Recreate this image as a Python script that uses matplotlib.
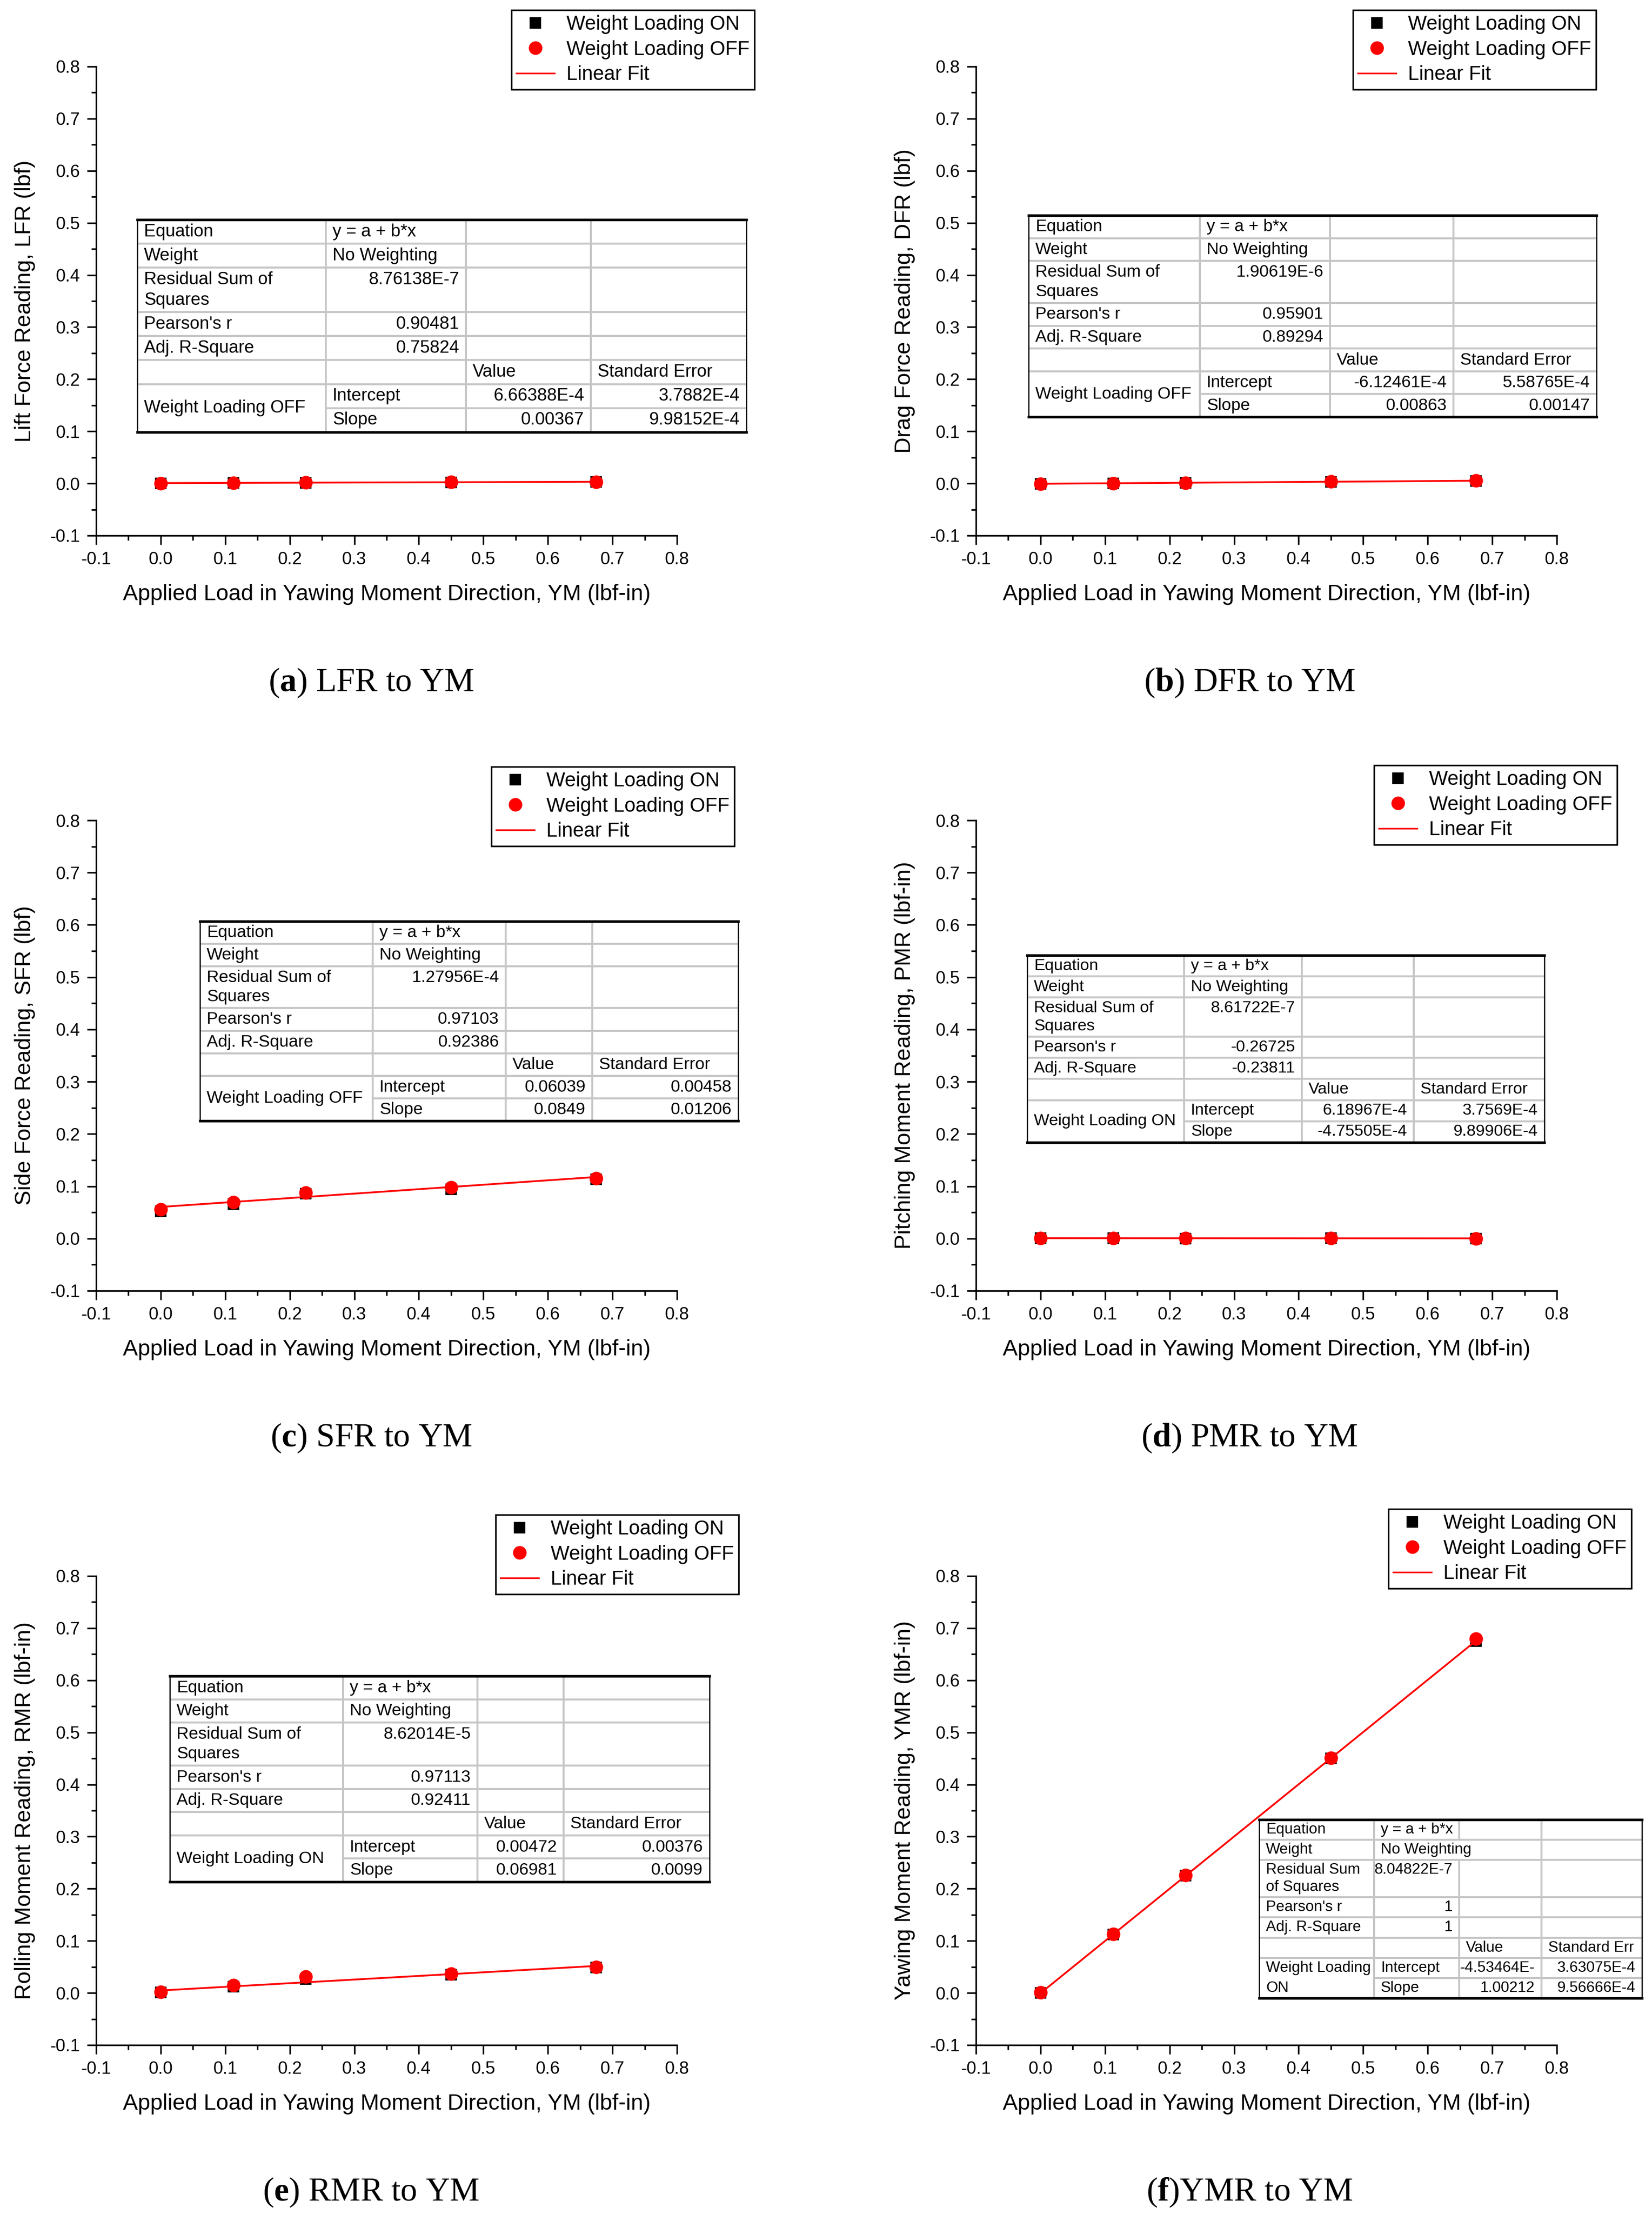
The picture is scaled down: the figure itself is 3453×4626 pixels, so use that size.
import numpy as np
import matplotlib
matplotlib.use("Agg")
import matplotlib.pyplot as plt
from matplotlib.lines import Line2D
from matplotlib.patches import Rectangle
from matplotlib.ticker import MultipleLocator, FormatStrFormatter

plt.rcParams['font.family'] = ['Liberation Sans', 'DejaVu Sans']
plt.rcParams['axes.unicode_minus'] = False
plt.rcParams['mathtext.fontset'] = 'custom'
plt.rcParams['mathtext.rm'] = 'Liberation Serif'
plt.rcParams['mathtext.bf'] = 'Liberation Serif:bold'

# applied yawing moment (lbf-in)
x_load = [0.0, 0.1125, 0.225, 0.45, 0.675]

# readings, weight loading ON / OFF
lfr_on = [0.0003, 0.0008, 0.0012, 0.0022, 0.0028]
lfr_off = [0.0005, 0.0012, 0.0016, 0.0024, 0.0031]
dfr_on = [-0.0006, 0.0002, 0.0011, 0.0033, 0.0050]
dfr_off = [-0.0004, 0.0004, 0.0013, 0.0036, 0.0053]
sfr_on = [0.052, 0.066, 0.086, 0.094, 0.113]
sfr_off = [0.056, 0.069, 0.088, 0.098, 0.115]
pmr_on = [0.0005, 0.0008, 0.0001, 0.0006, 0.0002]
pmr_off = [0.0003, 0.0006, 0.0003, 0.0004, 0.0001]
rmr_on = [0.001, 0.012, 0.027, 0.035, 0.049]
rmr_off = [0.002, 0.015, 0.031, 0.037, 0.050]
ymr_on = [0.0, 0.112, 0.225, 0.450, 0.675]
ymr_off = [0.001, 0.113, 0.226, 0.451, 0.680]

# fit results (intercept, slope) as printed in the tables
fit_a = [6.66388e-4, 0.00367]
fit_b = [-6.12461e-4, 0.00863]
fit_c = [0.06039, 0.0849]
fit_d = [6.18967e-4, -4.75505e-4]
fit_e = [0.00472, 0.06981]
fit_f = [-4.53464e-4, 1.00212]

# table texts: RSS, Pearson's r, Adj. R-Square, then (value, std err) rows
stats_a = ["8.76138E-7", "0.90481", "0.75824"]
rows_a = [["6.66388E-4", "3.7882E-4"], ["0.00367", "9.98152E-4"]]
stats_b = ["1.90619E-6", "0.95901", "0.89294"]
rows_b = [["-6.12461E-4", "5.58765E-4"], ["0.00863", "0.00147"]]
stats_c = ["1.27956E-4", "0.97103", "0.92386"]
rows_c = [["0.06039", "0.00458"], ["0.0849", "0.01206"]]
stats_d = ["8.61722E-7", "-0.26725", "-0.23811"]
rows_d = [["6.18967E-4", "3.7569E-4"], ["-4.75505E-4", "9.89906E-4"]]
stats_e = ["8.62014E-5", "0.97113", "0.92411"]
rows_e = [["0.00472", "0.00376"], ["0.06981", "0.0099"]]
stats_f = ["8.04822E-7", "1", "1"]
rows_f = [["-4.53464E-", "3.63075E-4"], ["1.00212", "9.56666E-4"]]

x_label = "Applied Load in Yawing Moment Direction, YM (lbf-in)"

W, H = 3453, 4626
fig = plt.figure(figsize=(W / 300, H / 300), dpi=300)


def fbox(x0, y0, x1, y1):
    return [x0 / W, 1 - y1 / H, (x1 - x0) / W, (y1 - y0) / H]


def draw_table(box, cols, stats, rows, series, fs=8.8,
               res_lines=("Residual Sum of", "Squares"),
               se_head="Standard Error", split_series=False, gap_w=False):
    x0, y0, x1, y1 = box
    tax = fig.add_axes(fbox(x0, y0, x1, y1))
    tax.set_xlim(0, 1)
    tax.set_ylim(1, 0)
    tax.axis('off')
    tax.add_patch(Rectangle((0, 0), 1, 1, facecolor='white', edgecolor='none'))
    cf = [0] + [(c - x0) / (x1 - x0) for c in cols] + [1]
    units = [1, 1, 1.85, 1, 1, 1, 1, 1]
    u = 1 / sum(units)
    rb = np.concatenate([[0], np.cumsum(units)]) * u
    rc = (rb[:-1] + rb[1:]) / 2
    gray = '#c6c6c6'
    for i in range(1, 8):
        xs = cf[1] if i == 7 else 0
        tax.plot([xs, 1], [rb[i], rb[i]], color=gray, lw=1.0)
    for j in (1, 2, 3):
        if gap_w and j == 2:
            tax.plot([cf[j]] * 2, [0, rb[1]], color=gray, lw=1.0)
            tax.plot([cf[j]] * 2, [rb[2], 1], color=gray, lw=1.0)
        else:
            tax.plot([cf[j]] * 2, [0, 1], color=gray, lw=1.0)
    tax.plot([0, 1], [0, 0], color='black', lw=1.3, clip_on=False)
    tax.plot([0, 1], [1, 1], color='black', lw=1.3, clip_on=False)
    tax.plot([0, 0], [0, 1], color='black', lw=0.6, clip_on=False)
    tax.plot([1, 1], [0, 1], color='black', lw=0.6, clip_on=False)

    pad = 14 / (x1 - x0)
    kw = dict(fontsize=fs, va='center')
    tax.text(pad, rc[0], "Equation", **kw)
    tax.text(cf[1] + pad, rc[0], "y = a + b*x", **kw)
    tax.text(pad, rc[1], "Weight", **kw)
    tax.text(cf[1] + pad, rc[1], "No Weighting", **kw)
    tax.text(pad, rb[2] + 0.5 * u, res_lines[0], **kw)
    tax.text(pad, rb[2] + 1.35 * u, res_lines[1], **kw)
    tax.text(cf[2] - pad, rb[2] + 0.5 * u, stats[0], ha='right', **kw)
    tax.text(pad, rc[3], "Pearson's r", **kw)
    tax.text(cf[2] - pad, rc[3], stats[1], ha='right', **kw)
    tax.text(pad, rc[4], "Adj. R-Square", **kw)
    tax.text(cf[2] - pad, rc[4], stats[2], ha='right', **kw)
    tax.text(cf[2] + pad, rc[5], "Value", **kw)
    tax.text(cf[3] + pad, rc[5], se_head, **kw)
    for k, name in enumerate(["Intercept", "Slope"]):
        tax.text(cf[1] + pad, rc[6 + k], name, **kw)
        tax.text(cf[3] - pad, rc[6 + k], rows[k][0], ha='right', **kw)
        tax.text(1 - pad, rc[6 + k], rows[k][1], ha='right', **kw)
    if split_series:
        tax.text(pad, rc[6], series[0], **kw)
        tax.text(pad, rc[7], series[1], **kw)
    else:
        tax.text(pad, rb[7], series, **kw)


def draw_panel(box, ylabel, y_on, y_off, fit, leg_xy, caption, cap_xy):
    ax = fig.add_axes(fbox(*box))
    fx = np.array([x_load[0], x_load[-1]])
    ax.plot(x_load, y_on, linestyle='none', marker='s', ms=4.8,
            color='black', zorder=3)
    ax.plot(fx, fit[0] + fit[1] * fx, color='red', lw=0.9, zorder=4)
    ax.plot(x_load, y_off, linestyle='none', marker='o', ms=5.8,
            color='red', zorder=5)
    ax.set_xlim(-0.1, 0.8)
    ax.set_ylim(-0.1, 0.8)
    for s in ('top', 'right'):
        ax.spines[s].set_visible(False)
    for s in ('left', 'bottom'):
        ax.spines[s].set_linewidth(0.8)
    ax.xaxis.set_major_locator(MultipleLocator(0.1))
    ax.xaxis.set_minor_locator(MultipleLocator(0.05))
    ax.yaxis.set_major_locator(MultipleLocator(0.1))
    ax.yaxis.set_minor_locator(MultipleLocator(0.05))
    ax.xaxis.set_major_formatter(FormatStrFormatter('%.1f'))
    ax.yaxis.set_major_formatter(FormatStrFormatter('%.1f'))
    ax.tick_params(which='major', direction='out', length=4.5, width=0.8,
                   labelsize=8.8)
    ax.tick_params(which='minor', direction='out', length=2.5, width=0.8)
    ax.set_xlabel(x_label, fontsize=11.2)
    ax.set_ylabel(ylabel, fontsize=11.2)
    ax.xaxis.set_label_coords(0.5, -0.103)
    ax.yaxis.set_label_coords(-0.105, 0.5)

    handles = [
        Line2D([], [], linestyle='none', marker='s', ms=4.8, color='black'),
        Line2D([], [], linestyle='none', marker='o', ms=5.8, color='red'),
        Line2D([], [], color='red', lw=0.8),
    ]
    leg = fig.legend(handles, ["Weight Loading ON", "Weight Loading OFF", "Linear Fit"],
                     loc='upper left',
                     bbox_to_anchor=(leg_xy[0] / W, 1 - leg_xy[1] / H),
                     fontsize=10, frameon=True, fancybox=False, framealpha=1,
                     edgecolor='black', borderaxespad=0, borderpad=0.25,
                     labelspacing=0.3, handlelength=1.9, handletextpad=0.6)
    leg.get_frame().set_linewidth(0.8)

    fig.text(cap_xy[0] / W, 1 - cap_xy[1] / H, caption, ha='center', va='center',
             fontsize=16.8, family='Liberation Serif')
    return ax


draw_panel((201, 139, 1415, 1119), "Lift Force Reading, LFR (lbf)",
           lfr_on, lfr_off, fit_a, (1069, 21), r"($\mathbf{a}$) LFR to YM", (776, 1427))
draw_table((287, 459, 1560, 903), (681, 974, 1235), stats_a, rows_a,
           "Weight Loading OFF")

draw_panel((2040, 139, 3254, 1119), "Drag Force Reading, DFR (lbf)",
           dfr_on, dfr_off, fit_b, (2828, 21), r"($\mathbf{b}$) DFR to YM", (2612, 1427))
draw_table((2150, 450, 3337, 871), (2508, 2780, 3038), stats_b, rows_b,
           "Weight Loading OFF", fs=8.5)

draw_panel((201, 1714, 1415, 2697), "Side Force Reading, SFR (lbf)",
           sfr_on, sfr_off, fit_c, (1027, 1602), r"($\mathbf{c}$) SFR to YM", (776, 3005))
draw_table((418, 1925, 1543, 2342), (779, 1057, 1238), stats_c, rows_c,
           "Weight Loading OFF", fs=8.5)

draw_panel((2040, 1714, 3254, 2697), "Pitching Moment Reading, PMR (lbf-in)",
           pmr_on, pmr_off, fit_d, (2872, 1599), r"($\mathbf{d}$) PMR to YM", (2612, 3005))
draw_table((2147, 1996, 3228, 2387), (2475, 2721, 2955), stats_d, rows_d,
           "Weight Loading ON", fs=8.2)

draw_panel((201, 3293, 1415, 4273), "Rolling Moment Reading, RMR (lbf-in)",
           rmr_on, rmr_off, fit_e, (1036, 3165), r"($\mathbf{e}$) RMR to YM", (776, 4581))
draw_table((355, 3502, 1483, 3932), (717, 998, 1178), stats_e, rows_e,
           "Weight Loading ON", fs=8.5)

draw_panel((2040, 3293, 3254, 4273), "Yawing Moment Reading, YMR (lbf-in)",
           ymr_on, ymr_off, fit_f, (2902, 3153), r"($\mathbf{f}$)YMR to YM", (2612, 4581))
draw_table((2632, 3802, 3432, 4175), (2872, 3050, 3222), stats_f, rows_f,
           ("Weight Loading", "ON"), fs=7.6, res_lines=("Residual Sum", "of Squares"),
           se_head="Standard Err", split_series=True, gap_w=True)

fig.savefig("out.png", dpi=300)
